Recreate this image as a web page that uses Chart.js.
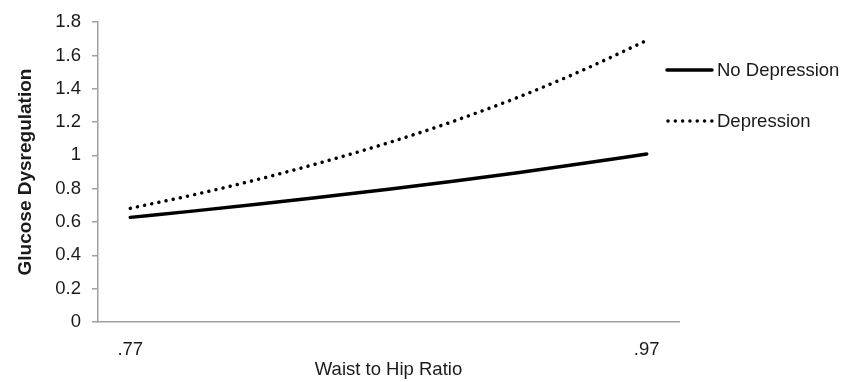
<!DOCTYPE html>
<html>
<head>
<meta charset="utf-8">
<script src="https://cdn.jsdelivr.net/npm/chart.js@4"></script>
<style>
  html, body { margin: 0; padding: 0; background: #ffffff; }
  #wrap { width: 846px; height: 382px; position: relative; }
</style>
</head>
<body>
<div id="wrap"><canvas id="glucoseChart" width="846" height="382"></canvas></div>
<script>
// waist to hip ratio points along the x axis
const categories = [".77", ".795", ".82", ".845", ".87", ".895", ".92", ".945", ".97"];
const tickLabels = [".77", "", "", "", "", "", "", "", ".97"];

// glucose dysregulation
const noDepression = [0.628, 0.667, 0.708, 0.752, 0.797, 0.845, 0.896, 0.951, 1.008];
const depression = [0.682, 0.765, 0.858, 0.962, 1.076, 1.204, 1.348, 1.51, 1.69];

const seriesNames = ["No Depression", "Depression"];
const yTicks = [0, 0.2, 0.4, 0.6, 0.8, 1, 1.2, 1.4, 1.6, 1.8];

const FONT = "'Liberation Sans', Arial, sans-serif";
const FONT_SIZE = 18.5;
const AXIS_GRAY = "#a0a0a0";

// легенда справа, як в оригіналі
const sideLegend = {
  id: "sideLegend",
  afterDraw(chart) {
    const ctx = chart.ctx;
    const rows = [70, 121];
    chart.data.datasets.forEach((ds, i) => {
      const y = rows[i];
      ctx.save();
      ctx.strokeStyle = ds.borderColor;
      ctx.lineWidth = ds.borderWidth;
      ctx.lineCap = ds.borderCapStyle || "butt";
      ctx.setLineDash(ds.borderDash || []);
      ctx.beginPath();
      ctx.moveTo(i === 0 ? 667 : 668, y);
      ctx.lineTo(712, y);
      ctx.stroke();
      ctx.setLineDash([]);
      ctx.fillStyle = "#1a1a1a";
      ctx.font = FONT_SIZE + "px " + FONT;
      ctx.textBaseline = "middle";
      ctx.textAlign = "left";
      ctx.fillText(ds.label, 717, y + 1);
      ctx.restore();
    });
  },
};

const ctx = document.getElementById("glucoseChart").getContext("2d");
new Chart(ctx, {
  type: "line",
  data: {
    labels: categories,
    datasets: [
      {
        label: seriesNames[0],
        data: noDepression,
        borderColor: "#000000",
        borderWidth: 3.5,
        borderCapStyle: "round",
        pointRadius: 0,
        cubicInterpolationMode: "monotone",
        fill: false,
      },
      {
        label: seriesNames[1],
        data: depression,
        borderColor: "#000000",
        borderWidth: 3.5,
        borderDash: [0.01, 7.3],
        borderCapStyle: "round",
        pointRadius: 0,
        cubicInterpolationMode: "monotone",
        fill: false,
      },
    ],
  },
  options: {
    responsive: false,
    animation: false,
    layout: { padding: { top: 22, right: 167, left: 0, bottom: 0 } },
    plugins: {
      legend: { display: false },
      tooltip: { enabled: false },
    },
    scales: {
      x: {
        offset: true,
        afterFit: (scale) => { scale.height = 60; },
        grid: { display: false, drawOnChartArea: false },
        border: { display: true, color: AXIS_GRAY, width: 1.5 },
        ticks: {
          autoSkip: false,
          maxRotation: 0,
          padding: 9,
          color: "#1a1a1a",
          font: { family: FONT, size: FONT_SIZE },
          callback: (val, i) => tickLabels[i],
        },
        title: {
          display: true,
          text: "Waist to Hip Ratio",
          color: "#1a1a1a",
          font: { family: FONT, size: FONT_SIZE },
          padding: { top: 0, bottom: 1 },
        },
      },
      y: {
        min: 0,
        max: 1.8,
        afterFit: (scale) => { scale.width = 98; },
        afterBuildTicks: (scale) => { scale.ticks = yTicks.map((v) => ({ value: v })); },
        grid: {
          drawOnChartArea: false,
          drawTicks: true,
          tickLength: 6,
          color: AXIS_GRAY,
          lineWidth: 1.5,
        },
        border: { display: true, color: AXIS_GRAY, width: 1.5 },
        ticks: {
          padding: 11,
          color: "#1a1a1a",
          font: { family: FONT, size: FONT_SIZE },
          callback: (v) => String(Math.round(v * 10) / 10),
        },
        title: {
          display: true,
          text: "Glucose Dysregulation",
          color: "#1a1a1a",
          font: { family: FONT, size: 19, weight: "bold" },
          padding: { top: 14, bottom: 0 },
        },
      },
    },
  },
  plugins: [sideLegend],
});
</script>
</body>
</html>
